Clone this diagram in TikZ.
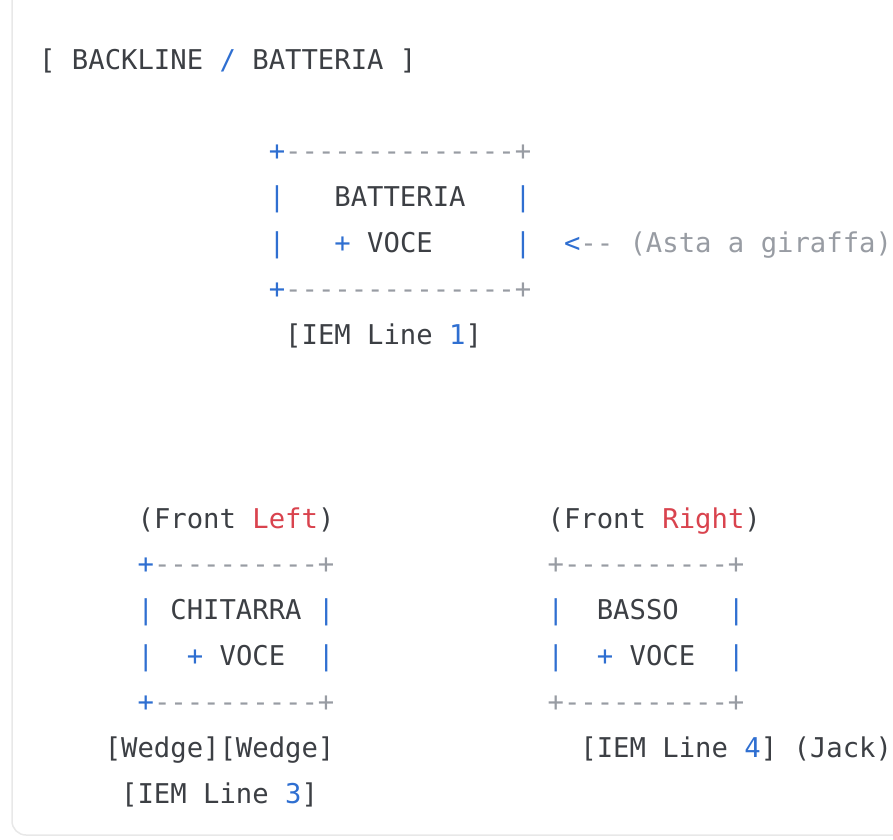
\documentclass[tikz,border=0pt]{standalone}
\usepackage{fontspec}
\setmonofont{DejaVu Sans Mono}
\usepackage{tikz}

\definecolor{codetext}{HTML}{3C3F44}
\definecolor{codeblue}{HTML}{2F6FD1}
\definecolor{codered}{HTML}{D9434E}
\definecolor{codegray}{HTML}{989CA3}
\definecolor{cardline}{HTML}{E8E8E8}

\newcommand{\op}[1]{{\color{codeblue}#1}}
\newcommand{\cm}[1]{{\color{codegray}#1}}

\tikzset{
  codeline/.style={anchor=base west, inner sep=0pt, text=codetext,
    font=\ttfamily\fontsize{27.24}{46}\selectfont},
}

\begin{document}
\begin{tikzpicture}[x=1pt, y=-1pt]
    \path[use as bounding box] (0,0) rectangle (893,839);
    \clip (0,0) rectangle (893,839);

    % code card
    \draw[cardline, line width=1.5pt, fill=white, rounded corners=14pt] (12,-20) rectangle (930,835);

    \node[codeline] (title) at (39,69) {[~BACKLINE~\op{/}~BATTERIA~]};

    % drums
    \node[codeline] (drumtop) at (268.6,160.8) {\op{+}\cm{--------------+}};
    \node[codeline] (drumname) at (268.6,206.7) {\op{|}~~~BATTERIA~~~\op{|}};
    \node[codeline] (drumvoce) at (268.6,252.6) {\op{|}~~~\op{+}~VOCE~~~~~\op{|}~~\op{<}\cm{--~(Asta~a~giraffa)}};
    \node[codeline] (drumbot) at (268.6,298.5) {\op{+}\cm{--------------+}};
    \node[codeline] (drumiem) at (285,344.4) {[IEM~Line~\op{1}]};

    % front left
    \node[codeline] (leftlabel) at (137.4,528) {(Front~{\color{codered}Left})};
    \node[codeline] (guittop) at (137.4,573.9) {\op{+}\cm{----------+}};
    \node[codeline] (guitname) at (137.4,619.8) {\op{|}~CHITARRA~\op{|}};
    \node[codeline] (guitvoce) at (137.4,665.7) {\op{|}~~\op{+}~VOCE~~\op{|}};
    \node[codeline] (guitbot) at (137.4,711.6) {\op{+}\cm{----------+}};
    \node[codeline] (wedges) at (104.6,757.5) {[Wedge][Wedge]};
    \node[codeline] (guitiem) at (121,803.4) {[IEM~Line~\op{3}]};

    % front right
    \node[codeline] (rightlabel) at (547.4,528) {(Front~{\color{codered}Right})};
    \node[codeline] (basstop) at (547.4,573.9) {\cm{+----------+}};
    \node[codeline] (bassname) at (547.4,619.8) {\op{|}~~BASSO~~~\op{|}};
    \node[codeline] (bassvoce) at (547.4,665.7) {\op{|}~~\op{+}~VOCE~~\op{|}};
    \node[codeline] (bassbot) at (547.4,711.6) {\cm{+----------+}};
    \node[codeline] (bassiem) at (580.2,757.5) {[IEM~Line~\op{4}]~(Jack)};
\end{tikzpicture}
\end{document}
